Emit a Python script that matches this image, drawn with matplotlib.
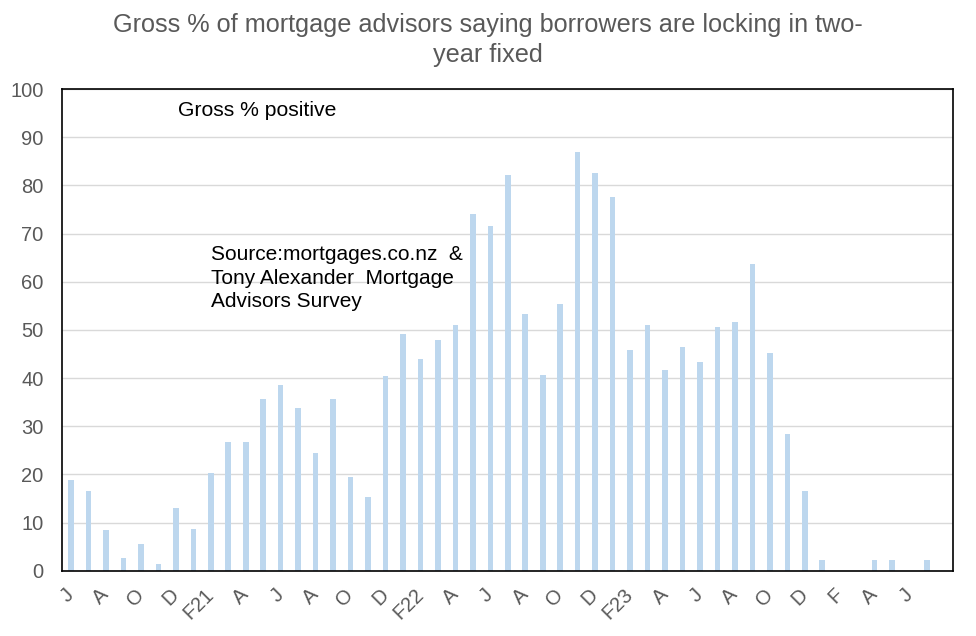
import matplotlib
matplotlib.use("Agg")
import matplotlib.pyplot as plt
import numpy as np

# Monthly values Jun 2020 .. Aug 2024
values = [18.8, 16.5, 8.5, 2.6, 5.5, 1.4, 13.0,
          8.7, 20.3, 26.7, 26.7, 35.6, 38.5, 33.8, 24.4, 35.6, 19.4, 15.3, 40.4,
          49.2, 44.0, 47.9, 51.0, 74.0, 71.6, 82.2, 53.3, 40.6, 55.3, 87.0, 82.6,
          77.7, 45.8, 51.0, 41.7, 46.4, 43.3, 50.7, 51.6, 63.7, 45.2, 28.4, 16.5,
          2.2, 0.0, 0.0, 2.2, 2.2, 0.0, 2.2, 0.0]

tick_labels = ["J", "A", "O", "D", "F21", "A", "J", "A", "O", "D", "F22", "A",
               "J", "A", "O", "D", "F23", "A", "J", "A", "O", "D", "F", "A", "J"]

title = "Gross % of mortgage advisors saying borrowers are locking in two-\nyear fixed"
label_text = "Gross % positive"
source_text = "Source:mortgages.co.nz  &\nTony Alexander  Mortgage\nAdvisors Survey"

plt.rcParams['font.family'] = ['Liberation Sans', 'DejaVu Sans']

fig = plt.figure(figsize=(9.76, 6.36), dpi=100)
ax = fig.add_axes([62.3/976, 1-570.7/636, (953.3-62.3)/976, (570.7-89.2)/636])

x = np.arange(len(values))
ax.bar(x, values, width=0.32, color="#BDD7EE", zorder=2)

ax.set_xlim(-0.5, len(values) - 0.5)
ax.set_ylim(0, 100)
ax.set_yticks(np.arange(0, 101, 10))
ax.yaxis.grid(True, color="#D9D9D9", linewidth=1.0, zorder=0)
ax.set_axisbelow(True)

tick_pos = x[:2 * len(tick_labels):2]
ax.set_xticks(tick_pos)
ax.set_xticklabels(tick_labels, rotation=45, ha="right", va="center",
                   rotation_mode="anchor", color="#595959", fontsize=14.5)
ax.tick_params(axis="x", length=0, pad=15)
ax.tick_params(axis="y", length=0, pad=13.5, labelcolor="#595959", labelsize=14.5)

for s in ax.spines.values():
    s.set_color("black")
    s.set_linewidth(1.2)

fig.text(0.5, 1 - 40/636, title, ha="center", va="center", fontsize=18.2,
         color="#595959", linespacing=1.32)

fig.text(178/976, 1 - 111/636, label_text, fontsize=15.2, color="black",
         ha="left", va="center")
fig.text(211/976, 1 - 278/636, source_text, fontsize=15, color="black",
         ha="left", va="center", linespacing=1.3)

fig.savefig("out.png", dpi=100)
